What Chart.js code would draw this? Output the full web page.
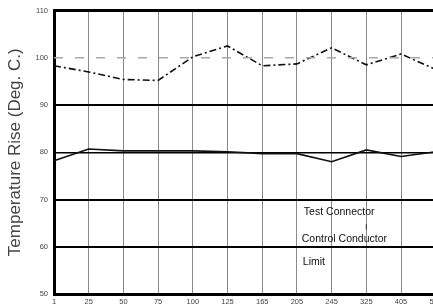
<!DOCTYPE html>
<html>
<head>
<meta charset="utf-8">
<style>
html,body{margin:0;padding:0;background:#fff;overflow:hidden;width:433px;height:308px;}
#wrap{width:445px;height:308px;position:relative;}
</style>
<script src="https://cdn.jsdelivr.net/npm/chart.js@4/dist/chart.umd.min.js"></script>
</head>
<body>
<div id="wrap"><canvas id="c" width="445" height="308"></canvas></div>
<script>
const categories = ['1','25','50','75','100','125','165','205','245','325','405','500'];
const testConnector = [98.3, 97.0, 95.4, 95.2, 100.2, 102.5, 98.3, 98.7, 102.1, 98.5, 100.8, 97.5];
const controlConductor = [78.2, 80.7, 80.3, 80.3, 80.3, 80.1, 79.7, 79.7, 78.0, 80.5, 79.1, 80.1];
const limitValue = [100,100,100,100,100,100,100,100,100,100,100,100];
const yTicks = [50, 60, 70, 80, 90, 100, 110];
const noteTexts = ['Test Connector', 'Control Conductor', 'Limit'];
const noteX = [7.2, 7.14, 7.17];
const noteY = [67.35, 61.7, 56.7];

const notes = {
  id: 'notes',
  afterDatasetsDraw(chart) {
    const {ctx, scales: {x, y}} = chart;
    ctx.save();
    ctx.fillStyle = '#111';
    ctx.font = '10.5px "Liberation Sans", Arial, sans-serif';
    ctx.textBaseline = 'middle';
    ctx.textAlign = 'left';
    noteTexts.forEach((t, i) => {
      ctx.fillText(t, x.getPixelForValue(noteX[i]), y.getPixelForValue(noteY[i]));
    });
    // small tick mark under "Connector"
    ctx.strokeStyle = '#333';
    ctx.lineWidth = 1;
    const tx = x.getPixelForValue(9.0);
    ctx.beginPath();
    ctx.moveTo(tx, y.getPixelForValue(64.8));
    ctx.lineTo(tx, y.getPixelForValue(63.6));
    ctx.stroke();
    // top border
    ctx.strokeStyle = '#000';
    ctx.lineWidth = 3;
    ctx.beginPath();
    ctx.moveTo(chart.chartArea.left - 1, y.getPixelForValue(110));
    ctx.lineTo(chart.chartArea.right, y.getPixelForValue(110));
    ctx.stroke();
    ctx.restore();
  }
};

new Chart(document.getElementById('c'), {
  type: 'line',
  data: {
    labels: categories,
    datasets: [
      {
        label: 'Limit',
        data: limitValue,
        borderColor: '#a8a8a8',
        borderWidth: 1.5,
        borderDash: [9, 12],
        pointRadius: 0,
        tension: 0
      },
      {
        label: 'Test Connector',
        data: testConnector,
        borderColor: '#111',
        borderWidth: 1.6,
        borderDash: [7, 3, 2, 3],
        pointRadius: 0,
        tension: 0
      },
      {
        label: 'Control Conductor',
        data: controlConductor,
        borderColor: '#111',
        borderWidth: 1.6,
        pointRadius: 0,
        tension: 0
      }
    ]
  },
  options: {
    responsive: false,
    animation: false,
    devicePixelRatio: 1,
    layout: { padding: { top: 7, right: 6, left: 0, bottom: 0 } },
    plugins: { legend: { display: false }, tooltip: { enabled: false } },
    scales: {
      x: {
        type: 'category',
        offset: false,
        afterFit(s) { s.height = 14; },
        grid: {
          color: (c) => c.index === 0 ? 'rgba(0,0,0,0)' : '#8a8a8a',
          lineWidth: 1,
          drawTicks: false
        },
        border: { color: '#000', width: 3 },
        ticks: {
          color: '#444',
          font: { family: '"Liberation Sans", Arial, sans-serif', size: 7.5 },
          padding: 3,
          maxRotation: 0,
          autoSkip: false
        }
      },
      y: {
        min: 50,
        max: 110,
        afterFit(s) { s.width = 54; },
        afterBuildTicks(s) { s.ticks = yTicks.map(v => ({ value: v })); },
        grid: {
          color: (c) => {
            const v = c.tick && c.tick.value;
            if (v === 100 || v === 50 || v === 110) return 'rgba(0,0,0,0)';
            return '#000';
          },
          lineWidth: (c) => {
            const v = c.tick && c.tick.value;
            return v === 80 ? 1.5 : 2;
          },
          drawTicks: false
        },
        border: { color: '#000', width: 3 },
        title: {
          display: true,
          text: 'Temperature Rise (Deg. C.)',
          color: '#444',
          font: { family: '"Liberation Sans", Arial, sans-serif', size: 17 },
          padding: { top: 5, bottom: 2 }
        },
        ticks: {
          color: '#444',
          font: { family: '"Liberation Sans", Arial, sans-serif', size: 7.5 },
          padding: 6
        }
      }
    }
  },
  plugins: [notes]
});
</script>
</body>
</html>
